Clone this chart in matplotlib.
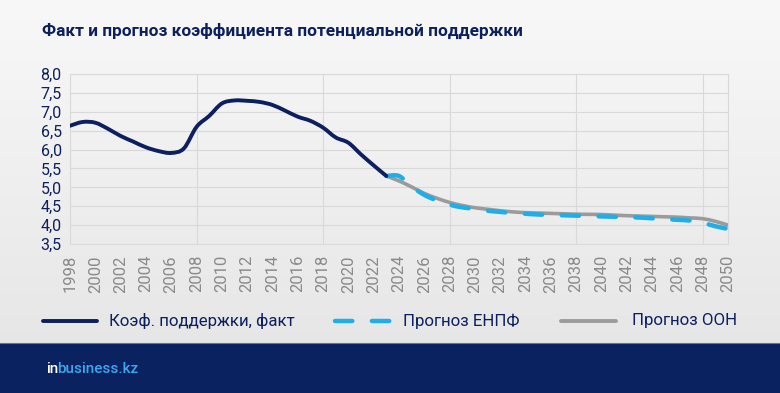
import matplotlib
matplotlib.use("Agg")
import matplotlib.pyplot as plt
import numpy as np
from matplotlib.lines import Line2D
from matplotlib.patches import Rectangle, PathPatch
from matplotlib.path import Path
from matplotlib.colors import LinearSegmentedColormap

plt.rcParams['font.family'] = ['Roboto', 'DejaVu Sans']

title = "Факт и прогноз коэффициента потенциальной поддержки"

fact_years = list(range(1998, 2024))
fact_values = [6.63, 6.73, 6.71, 6.55, 6.36, 6.21, 6.06, 5.96, 5.91, 6.03,
               6.60, 6.89, 7.22, 7.30, 7.29, 7.26, 7.18, 7.03, 6.87, 6.76,
               6.58, 6.32, 6.18, 5.87, 5.58, 5.30]

enpf_years = list(range(2023, 2051))
enpf_values = [5.30, 5.30, 5.02, 4.80, 4.65, 4.54, 4.47, 4.43, 4.38, 4.35,
               4.32, 4.30, 4.28, 4.27, 4.26, 4.25, 4.24, 4.23, 4.22, 4.21,
               4.20, 4.18, 4.16, 4.14, 4.12, 4.06, 3.97, 3.90]

un_years = list(range(2023, 2051))
un_values = [5.30, 5.17, 5.01, 4.84, 4.71, 4.60, 4.52, 4.46, 4.42, 4.38,
             4.35, 4.33, 4.32, 4.31, 4.30, 4.29, 4.285, 4.28, 4.265, 4.25,
             4.24, 4.23, 4.22, 4.21, 4.19, 4.17, 4.10, 4.00]

legend_labels = ["Коэф. поддержки, факт", "Прогноз ЕНПФ", "Прогноз ООН"]
x_ticks = list(range(1998, 2051, 2))
y_ticks = [3.5, 4.0, 4.5, 5.0, 5.5, 6.0, 6.5, 7.0, 7.5, 8.0]

NAVY = "#0c1f5e"
BLUE = "#1eaee8"
GRAY = "#9b9b9b"
GRID = "#d9d9d9"

W, H = 780, 393
fig = plt.figure(figsize=(W / 100, H / 100), dpi=100)

# background gradient
bg = fig.add_axes([0, 0, 1, 1], zorder=-10)
grad = np.linspace(0, 1, 256).reshape(-1, 1)
cmap = LinearSegmentedColormap.from_list("bg", ["#f8f8f8", "#e4e4e4"])
bg.imshow(grad, aspect="auto", cmap=cmap, extent=[0, 1, 0, 1], origin="upper")
bg.set_xlim(0, 1)
bg.set_ylim(0, 1)
bg.axis("off")

# navy footer band
band_h = 50 / H
fig.add_artist(Rectangle((0, 0), 1, band_h, transform=fig.transFigure,
                         facecolor="#0a2260", edgecolor="none", zorder=1))
fig.add_artist(Line2D([0, 1], [band_h, band_h], transform=fig.transFigure,
                      color="#5d72a8", lw=0.8, zorder=2))

# logo
fig.text(46 / W, 1 - 369 / H, "in", color="white", fontsize=11,
         fontweight="medium", va="center", ha="left", zorder=3)
fig.text(57.5 / W, 1 - 369 / H, "business.kz", color="#3ea6ee", fontsize=11,
         fontweight="medium", va="center", ha="left", zorder=3)

# title
fig.text(42 / W, 1 - 31 / H, title, color=NAVY, fontsize=12.4,
         fontweight="bold", va="center", ha="left")

ax = fig.add_axes([70 / W, 1 - 244 / H, 658 / W, 170 / H])
ax.set_facecolor("none")
ax.set_xlim(1998, 2050)
ax.set_ylim(3.5, 8.0)

for y in y_ticks:
    ax.axhline(y, color=GRID, lw=0.8, zorder=1)
for x in range(2008, 2050, 10):
    ax.axvline(x, color=GRID, lw=0.8, zorder=1)
for s in ax.spines.values():
    s.set_color(GRID)
    s.set_linewidth(0.8)


def smooth_path(xs, ys):
    """Excel-style smoothed line as cubic Bezier path through the points."""
    xs = np.asarray(xs, float)
    ys = np.asarray(ys, float)
    n = len(xs)
    verts = [(xs[0], ys[0])]
    codes = [Path.MOVETO]
    for i in range(n - 1):
        i0 = max(i - 1, 0)
        i3 = min(i + 2, n - 1)
        c1 = (xs[i] + (xs[i + 1] - xs[i0]) / 6, ys[i] + (ys[i + 1] - ys[i0]) / 6)
        c2 = (xs[i + 1] - (xs[i3] - xs[i]) / 6, ys[i + 1] - (ys[i3] - ys[i]) / 6)
        verts += [c1, c2, (xs[i + 1], ys[i + 1])]
        codes += [Path.CURVE4] * 3
    return Path(verts, codes)


def add_curve(xs, ys, zorder, **kw):
    p = PathPatch(smooth_path(xs, ys), facecolor="none", zorder=zorder,
                  transform=ax.transData, **kw)
    ax.add_patch(p)


add_curve(un_years, un_values, 3, edgecolor=GRAY, lw=2.6, capstyle="round",
          joinstyle="round")
add_curve(enpf_years, enpf_values, 4, edgecolor=BLUE, lw=3.2,
          linestyle=(0, (3.9, 4.4)), capstyle="round", joinstyle="round")
add_curve(fact_years, fact_values, 5, edgecolor=NAVY, lw=2.8,
          capstyle="round", joinstyle="round")

ax.set_xticks(x_ticks)
ax.set_xticklabels([str(x) for x in x_ticks], rotation=90, color="#8a8a8a",
                   fontsize=12)
ax.set_yticks(y_ticks)
ax.set_yticklabels([f"{y:.1f}".replace(".", ",") for y in y_ticks],
                   color=NAVY, fontsize=11.5)
ax.tick_params(axis="both", length=0)
ax.tick_params(axis="x", pad=8)
ax.tick_params(axis="y", pad=6)

# legend
ly = 1 - 321 / H
items = [
    (43, 97, 109, dict(color=NAVY, lw=2.8, solid_capstyle="round")),
    (335, 390, 403, dict(color=BLUE, lw=3.2, linestyle=(0, (3.9, 4.4)), dash_capstyle="round")),
    (561, 616, 632, dict(color=GRAY, lw=2.8, solid_capstyle="round")),
]
for (x0, x1, tx, style), lab in zip(items, legend_labels):
    fig.add_artist(Line2D([x0 / W, x1 / W], [ly, ly], transform=fig.transFigure, **style))
    fig.text(tx / W, ly, lab, color=NAVY, fontsize=12.2, va="center", ha="left")

fig.savefig("out.png", dpi=100)
